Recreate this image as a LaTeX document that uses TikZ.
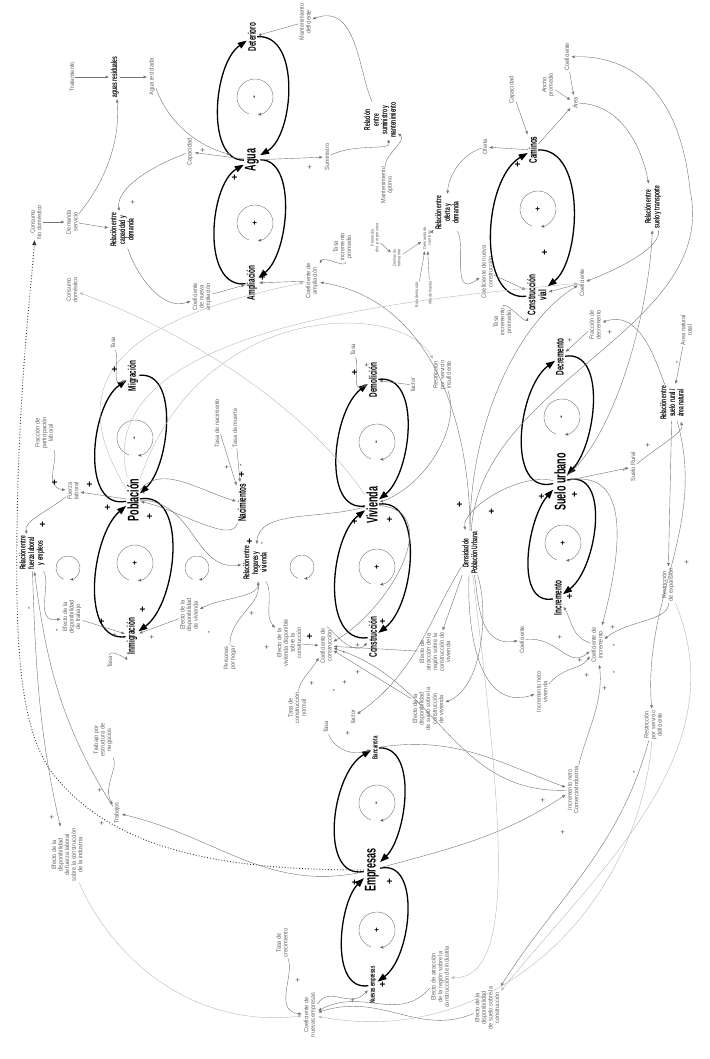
\documentclass[tikz,border=0pt]{standalone}
\usepackage{fontspec}
\setmainfont{Liberation Sans}
\newfontfamily\lblfont{Liberation Sans}[FakeStretch=0.9]
\newfontfamily\ttlfont{Liberation Sans}[FakeStretch=0.58]
\usetikzlibrary{arrows.meta}
\tikzset{
  stock/.style={font=\ttlfont\bfseries\fontsize{15.5}{15.5}\selectfont,rotate=90,inner sep=1pt},
  flow/.style={font=\ttlfont\bfseries\fontsize{11}{11}\selectfont,rotate=90,inner sep=1pt,align=center},
  flowsm/.style={font=\ttlfont\bfseries\fontsize{7.5}{8}\selectfont,rotate=90,inner sep=1pt},
  rel/.style={font=\ttlfont\bfseries\fontsize{8.5}{8.6}\selectfont,rotate=90,inner sep=1pt,align=center},
  lbl/.style={font=\lblfont\fontsize{6.2}{6.6}\selectfont,text=black!62,rotate=90,inner sep=1pt,align=center},
  tinylbl/.style={lbl,font=\lblfont\fontsize{4.3}{4.6}\selectfont},
  lnk/.style={-{Triangle[length=3.2pt,width=2.6pt]},line width=0.4pt,black!55,shorten >=1pt},
  faint/.style={lnk,black!28},
  dotl/.style={-{Triangle[length=5pt,width=4pt]},line width=0.9pt,dotted,black!80},
  bigarc/.style={-{Triangle[length=9pt,width=6.5pt]},line width=1.3pt,looseness=0.95},
  inloop/.style={-{Triangle[length=3pt,width=2.6pt]},line width=0.35pt,black!60},
  sgn/.style={font=\lblfont\fontsize{8}{8}\selectfont,text=black!70,rotate=90,inner sep=0pt},
  bsgn/.style={font=\bfseries\fontsize{10}{10}\selectfont,rotate=90,inner sep=0pt},
}
\begin{document}
\begin{tikzpicture}[x=1pt,y=-1pt]
  \useasboundingbox (0,0) rectangle (709,1059);
  % ---- agua ----
  \node[stock] (agua) at (252,160) {Agua};
  \node[flow] (deter) at (252,37) {Deterioro};
  \node[flow] (ampl) at (252,283) {Ampliación};
  \node[rel] (aguares) at (115,77) {aguas residuales};
  \node[lbl] (trat) at (72,77) {Tratamiento};
  \node[lbl] (aguarec) at (152,77) {Agua reciclada};
  \node[lbl] (capac) at (190,152) {Capacidad};
  \node[rel] (relcap) at (122,230) {Relación entre\\capacidad y\\demanda};
  \node[lbl] (consnd) at (36,222) {Consumo\\No doméstico};
  \node[lbl] (demserv) at (72,222) {Demanda\\servicio};
  \node[lbl] (consdom) at (72,290) {Consumo\\doméstico};
  \node[lbl] (coefnamp) at (202,297) {Coeficiente\\de nueva\\ampliación};
  \node[lbl] (mantdef) at (305,22) {Mantenimiento\\deficiente};
  \node[rel] (relsum) at (380,120) {Relación\\entre\\suministro y\\mantenimiento};
  \node[lbl] (sumin) at (327,157) {Suministro};
  \node[lbl] (mantopt) at (387,185) {Mantenimiento\\óptimo};
  \node[lbl] (tasaA) at (343,247) {Tasa\\incremento\\promedio};
  \node[lbl] (coefamp) at (312,281) {Coeficiente de\\ampliación};
  % ---- caminos ----
  \node[tinylbl] (promd) at (375,238) {Promedio\\dist. por persona};
  \node[tinylbl] (demtr) at (397,258) {Demanda\\transporte};
  \node[tinylbl] (demcam) at (427,238) {Demanda de\\caminos};
  \node[tinylbl] (bajo) at (417,295) {Bajo demanda};
  \node[tinylbl] (alta) at (430,293) {Alta demanda};
  \node[rel] (relof) at (447,213) {Relación entre\\oferta y\\demanda};
  \node[lbl] (oferta) at (485,147) {Oferta};
  \node[flow] (cam) at (533,150) {Caminos};
  \node[lbl] (capcam) at (512,90) {Capacidad};
  \node[lbl] (ancho) at (548,85) {Ancho\\promedio};
  \node[lbl] (area) at (575,103) {Área};
  \node[lbl] (coefA) at (567,57) {Coeficiente};
  \node[rel] (relst) at (653,207) {Relación entre\\suelo y transporte};
  \node[flow] (cvial) at (537,295) {Construcción\\vial};
  \node[lbl] (coefnc) at (487,272) {Coeficiente de nueva\\construcción};
  \node[lbl] (coefB) at (582,283) {Coeficiente};
  \node[lbl] (tasaC) at (503,322) {Tasa\\incremento\\promedio};
  % ---- suelo ----
  \node[stock] (suelo) at (560,482) {Suelo urbano};
  \node[flow] (decr) at (560,357) {Decremento};
  \node[flow] (incr) at (558,598) {Incremento};
  \node[lbl] (fracd) at (595,325) {Fracción de\\decremento};
  \node[lbl] (areanat) at (686,330) {Área natural\\total};
  \node[rel] (relrur) at (672,403) {Relación entre\\suelo rural /\\área natural};
  \node[lbl] (suelr) at (633,467) {Suelo Rural};
  \node[rel] (dens) at (470,553) {Densidad de\\Población Urbana};
  \node[lbl] (coefC) at (522,640) {Coeficiente};
  \node[lbl] (coefi) at (597,645) {Coeficiente de\\incremento};
  \node[lbl] (restexp) at (668,585) {Restricción\\de expansión};
  \node[lbl] (incnv) at (542,692) {Incremento neto\\vivienda};
  \node[lbl] (incnc) at (573,790) {Incremento neto\\Comercio/Industria};
  \node[lbl] (restdef) at (653,725) {Restricción\\por servicio\\deficiente};
  \node[lbl] (efsuc) at (487,1008) {Efecto de la\\disponibilidad\\de suelo sobre la\\construcción};
  % ---- empresas ----
  \node[stock] (empr) at (372,870) {Empresas};
  \node[flowsm] (banc) at (375,748) {Bancarrota};
  \node[flowsm] (nuevas) at (373,985) {Nuevas empresas};
  \node[lbl] (tasaBk) at (326,727) {Tasa};
  \node[lbl] (factB) at (353,717) {factor};
  \node[lbl] (tasacons) at (297,708) {Tasa de\\construcción\\normal};
  \node[lbl] (tasacrec) at (282,943) {Tasa de\\crecimiento};
  \node[lbl] (coefne) at (310,1015) {Coeficiente de\\nuevas empresas};
  \node[lbl] (efatri) at (440,977) {Efecto de atracción\\de la región sobre la\\construcción de industria};
  \node[lbl] (trabajos) at (117,813) {Trabajos};
  \node[lbl] (trabest) at (103,740) {Trabajo por\\estructura de\\negocios};
  \node[lbl] (effuer) at (67,855) {Efecto de la\\disponibilidad\\de fuerza laboral\\sobre la construcción\\de la industria};
  % ---- vivienda ----
  \node[stock] (viv) at (372,505) {Vivienda};
  \node[flow] (demol) at (373,380) {Demolición};
  \node[flow] (constr) at (373,637) {Construcción};
  \node[lbl] (tasaD) at (353,350) {Tasa};
  \node[lbl] (factD) at (413,385) {factor};
  \node[lbl] (restins) at (442,375) {Restricción\\por servicio\\insuficiente};
  \node[lbl] (efviv) at (289,643) {Efecto de la\\vivienda disponible\\sobre la\\construcción};
  \node[lbl] (coefcons) at (326,646) {Coeficiente de\\construcción};
  \node[lbl] (efatrv) at (435,652) {Efecto de\\atracción de la\\región sobre la\\construcción de\\vivienda};
  \node[lbl] (efsuv) at (428,709) {Efecto de la\\disponibilidad\\de suelo sobre la\\construcción\\de vivienda};
  \node[rel] (relhog) at (255,563) {Relación entre\\hogares y\\vivienda};
  % ---- poblacion ----
  \node[stock] (pobl) at (133,500) {Población};
  \node[flow] (migr) at (133,376) {Migración};
  \node[flow] (inmig) at (132,636) {Inmigración};
  \node[flow] (nac) at (242,503) {Nacimientos};
  \node[lbl] (tasaM) at (113,343) {Tasa};
  \node[lbl] (fracp) at (44,433) {Fracción de\\participación\\laboral};
  \node[lbl] (fuerza) at (73,491) {Fuerza\\laboral};
  \node[rel] (relfuer) at (32,553) {Relación entre\\fuerza laboral\\y empleos};
  \node[lbl] (efdt) at (72,617) {Efecto de la\\disponibilidad\\de trabajo};
  \node[lbl] (tasaI) at (110,662) {Tasa};
  \node[lbl] (efdv) at (189,615) {Efecto de la\\disponibilidad\\de vivienda};
  \node[lbl] (pers) at (230,658) {Personas\\por hogar};
  \node[lbl] (tasanac) at (217,423) {Tasa de nacimiento};
  \node[lbl] (tasamue) at (235,428) {Tasa de muerte};

  % main loops
  \foreach \s/\t in {agua/deter,pobl/migr,viv/demol,empr/banc,suelo/decr,cvial/cam}{
    \draw[bigarc] (\s) to[out=165,in=195] (\t);
    \draw[bigarc] (\t) to[out=-15,in=15] (\s);
  }
  \foreach \b/\s in {ampl/agua,inmig/pobl,constr/viv,nuevas/empr,incr/suelo}{
    \draw[bigarc] (\b) to[out=165,in=195] (\s);
    \draw[bigarc] (\s) to[out=-15,in=15] (\b);
  }
  \foreach \x/\y/\s in {255/97/-,255/223/+,135/438/-,135/563/+,377/442/-,377/567/+,
                        377/803/-,377/930/+,562/417/-,563/543/+,538/209/+}{
    \draw[inloop] (\x,\y) ++(250:18pt) arc[start angle=250,end angle=-80,radius=18pt];
    \node[bsgn,font=\bfseries\fontsize{8}{8}\selectfont] (c-\x-\y) at (\x,\y) {\s};
  }
  \foreach \x/\y in {68/568,197/568,302/567}
    \draw[inloop] (\x,\y) ++(250:12pt) arc[start angle=250,end angle=-80,radius=12pt];

  % water links
  \draw[lnk] (trat) -- (aguares);
  \draw[lnk] (aguares) -- (aguarec);
  \draw[lnk,shorten >=14pt] (aguarec) to[out=-75,in=150] (agua);
  \draw[lnk] (agua) -- (capac);
  \draw[lnk] (capac) to[out=180,in=80] (relcap);
  \draw[lnk] (consnd) -- (demserv);
  \draw[lnk] (demserv) -- (relcap);
  \draw[lnk] (demserv) to[out=40,in=-90] (aguares);
  \draw[lnk] (relcap) to[out=-90,in=180] (coefnamp);
  \draw[lnk] (coefnamp) -- (ampl);
  \draw[faint] (viv) .. controls (300,400) and (180,330) .. (consdom);
  \draw[lnk] (mantdef) -- (deter);
  \draw[lnk] (relsum) to[out=95,in=0] (mantdef);
  \draw[lnk] (agua) -- (sumin);
  \draw[lnk] (sumin) to[out=0,in=-100] (relsum);
  \draw[lnk] (mantopt) to[out=80,in=-70] (relsum);
  \draw[lnk] (tasaA) to[out=-110,in=20] (coefamp);
  \draw[lnk] (coefamp) -- (ampl);

  % transport links
  \draw[lnk] (promd) -- (demtr);
  \draw[lnk] (demtr) -- (demcam);
  \draw[lnk] (demcam) -- (relof);
  \draw[lnk] (bajo) -- (demcam);
  \draw[lnk] (alta) -- (demcam);
  \draw[lnk] (cam) -- (oferta);
  \draw[lnk] (oferta) to[out=180,in=60] (relof);
  \draw[lnk] (relof) to[out=-80,in=180] (coefnc);
  \draw[lnk] (coefnc) -- (cvial);
  \draw[lnk] (capcam) -- (cam);
  \draw[lnk] (cam) -- (area);
  \draw[lnk] (ancho) -- (area);
  \draw[lnk] (coefA) -- (area);
  \draw[lnk] (area) to[out=-10,in=90] (relst);
  \draw[lnk] (relst) to[out=-90,in=0] (coefB);
  \draw[lnk] (coefB) -- (cvial);
  \draw[lnk] (tasaC) to[out=60,in=200] (cvial);
  \draw[lnk] (dens) .. controls (480,380) and (720,330) .. (690,190)
    .. controls (680,90) and (630,55) .. (coefA);
  \draw[lnk] (dens) .. controls (470,420) and (520,320) .. (coefB);
  \draw[lnk] (suelo) .. controls (620,430) and (650,300) .. (relst);

  % land links
  \draw[lnk] (relrur) to[out=95,in=0] (fracd);
  \draw[lnk] (fracd) -- (decr);
  \draw[lnk] (areanat) -- (relrur);
  \draw[lnk] (suelo) -- (suelr);
  \draw[lnk] (suelr) to[out=10,in=-90] (relrur);
  \draw[lnk] (suelo) to[out=150,in=90] (dens);
  \draw[lnk] (dens) to[out=-90,in=170] (coefC);
  \draw[lnk] (coefC) to[out=-15,in=190] (coefi);
  \draw[lnk] (coefi) to[out=140,in=-70] (incr);
  \draw[lnk] (suelo) to[out=-10,in=70] (coefi);
  \draw[lnk] (relrur) -- (restexp);
  \draw[lnk] (restexp) to[out=-100,in=10] (coefi);
  \draw[lnk] (incnv) to[out=10,in=210] (coefi);
  \draw[lnk] (dens) to[out=-100,in=180] (incnv);
  \draw[lnk] (incnc) to[out=70,in=-90] (coefi);
  \draw[lnk] (banc) to[out=0,in=150] (incnc);
  \draw[lnk] (empr) to[out=0,in=200] (incnc);
  \draw[lnk] (relrur) to[out=-80,in=90] (restdef);
  \draw[lnk] (restdef) to[out=-110,in=50] (efsuc);
  \draw[faint] (restexp) to[out=-70,in=45] (efsuc);

  % firms links
  \draw[lnk] (efsuc) to[out=185,in=0] (coefne);
  \draw[lnk] (efatri) to[out=-160,in=5] (coefne);
  \draw[faint] (restdef) .. controls (640,900) and (500,1050) .. (coefne);
  \draw[faint] (dens) .. controls (500,800) and (520,980) .. (efatri);
  \draw[lnk] (trabest) to[out=-80,in=110] (trabajos);
  \draw[lnk] (empr) to[out=180,in=-20] (trabajos);
  \draw[lnk] (trabajos) to[out=120,in=-90] (relfuer);
  \draw[lnk] (relfuer) to[out=-95,in=95] (effuer);
  \draw[faint] (effuer) to[out=-75,in=175] (coefne);
  \draw[lnk] (tasacrec) to[out=-80,in=150] (coefne);
  \draw[lnk] (coefne) to[out=20,in=195] (nuevas);
  \draw[lnk] (tasaBk) to[out=-80,in=170] (banc);
  \draw[dotl] (empr) .. controls (220,870) and (110,850) .. (50,770)
    .. controls (18,720) and (14,640) .. (18,480)
    .. controls (22,360) and (30,300) .. (consnd);

  % housing links
  \draw[lnk] (tasacons) to[out=60,in=210] (coefcons);
  \draw[lnk] (efviv) -- (coefcons);
  \draw[lnk] (relhog) to[out=-80,in=110] (efviv);
  \draw[lnk] (coefcons) to[out=70,in=180] (constr);
  \draw[lnk] (efatrv) -- (coefcons);
  \draw[lnk] (viv) to[out=-20,in=15,looseness=1.2] (coefcons);
  \draw[lnk] (efsuv) -- (coefcons);
  \draw[lnk] (dens) to[out=-80,in=0] (efsuv);
  \draw[lnk] (dens) -- (efatrv);
  \draw[lnk] (incnc) to[out=170,in=-25] (coefcons);
  \draw[lnk] (dens) to[out=-130,in=30] (factB);
  \draw[lnk] (tasaD) to[out=-80,in=170] (demol);
  \draw[lnk] (factD) -- (demol);
  \draw[faint] (pobl) .. controls (200,300) and (400,300) .. (restins);
  \draw[lnk] (restins) to[out=-80,in=0] (viv);
  \draw[lnk] (dens) .. controls (470,420) and (430,300) .. (coefamp);

  % population links
  \draw[lnk] (tasaM) to[out=-80,in=170] (migr);
  \draw[lnk] (fracp) to[out=-80,in=150] (fuerza);
  \draw[lnk] (pobl) -- (fuerza);
  \draw[lnk] (fuerza) to[out=200,in=80] (relfuer);
  \draw[lnk] (relfuer) to[out=-80,in=160] (efdt);
  \draw[lnk] (efdt) -- (inmig);
  \draw[lnk] (tasaI) to[out=80,in=200] (inmig);
  \draw[lnk] (efdv) -- (inmig);
  \draw[lnk] (relhog) to[out=-100,in=0] (efdv);
  \draw[lnk] (pers) to[out=80,in=-100] (relhog);
  \draw[lnk] (tasanac) -- (nac);
  \draw[lnk] (tasamue) -- (nac);
  \draw[lnk] (pobl) to[out=40,in=150] (nac);
  \draw[lnk] (nac) to[out=-110,in=-30] (pobl);
  \draw[lnk] (pobl) to[out=-20,in=170] (relhog);
  \draw[lnk] (viv) to[out=175,in=70] (relhog);
  \draw[faint] (pobl) .. controls (60,380) and (120,320) .. (coefamp);
  \draw[faint] (pobl) .. controls (90,330) and (400,300) .. (coefB);

  % polarity signs
  \foreach \x/\y [count=\i] in {203/150,133/202,310/167,115/635,152/637,227/467,252/613,
      267/647,358/645,358/672,345/682,312/683,367/365,348/733,298/980,353/1000,100/790,
      102/823,52/817,610/332,570/340,648/445,560/637,580/660,613/627,587/675,605/688,
      687/562,543/800,563/832}
    \node[sgn] (p\i) at (\x,\y) {+};
  \foreach \x/\y [count=\i] in {235/178,263/278,108/508,150/517,115/370,143/610,55/483,
      90/485,43/525,102/622,355/522,390/520,355/373,383/622,310/637,460/505,355/883,
      390/882,383/985,518/165,545/253,542/497,575/495,570/597,492/512,242/475,250/542}
    \node[bsgn] (q\i) at (\x,\y) {+};
  \foreach \x/\y [count=\i] in {391/490,145/493,391/853,575/467,242/465,263/543,58/630,
      210/632,30/608,345/652,335/690,625/470,678/362,615/645,615/672,635/772}
    \node[sgn,text=black] (m\i) at (\x,\y) {-};
\end{tikzpicture}
\end{document}
